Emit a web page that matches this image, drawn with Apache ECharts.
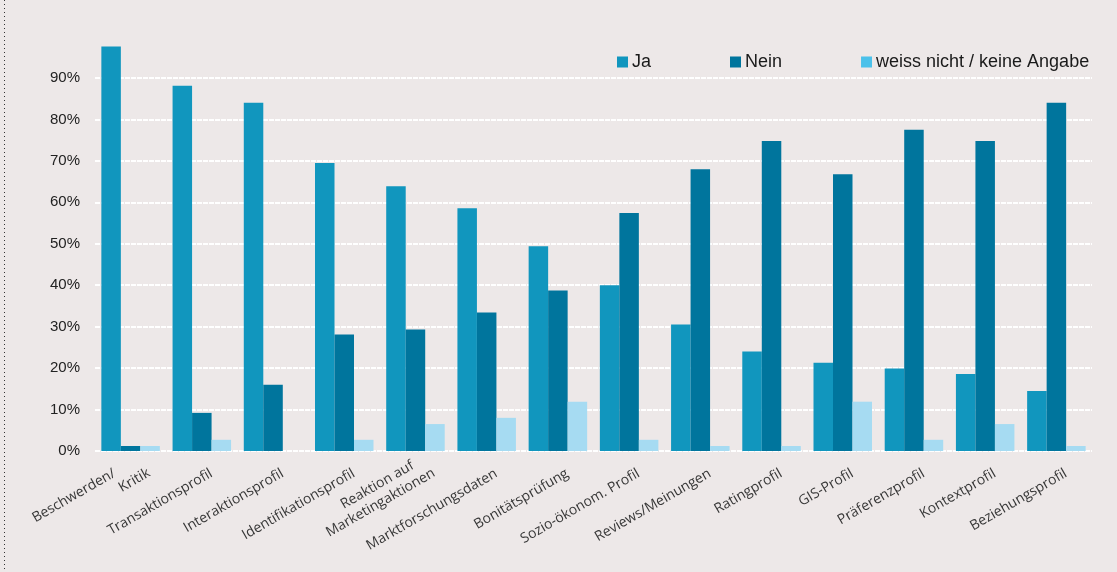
<!DOCTYPE html>
<html>
<head>
<meta charset="utf-8">
<script src="https://cdn.jsdelivr.net/npm/echarts@6/dist/echarts.min.js"></script>
<style>
  html, body { margin: 0; padding: 0; background: #ede8e8; }
  #chart { width: 1117px; height: 572px; }
</style>
</head>
<body>
<div id="chart"></div>
<script>
const categories = [
  "Beschwerden/\nKritik", "Transaktionsprofil", "Interaktionsprofil", "Identifikationsprofil",
  "Reaktion auf\nMarketingaktionen", "Marktforschungsdaten", "Bonitätsprüfung",
  "Sozio-ökonom. Profil", "Reviews/Meinungen", "Ratingprofil", "GIS-Profil",
  "Präferenzprofil", "Kontextprofil", "Beziehungsprofil"
];
const ja =    [97.6, 88.1, 84.0, 69.5, 63.9, 58.6, 49.4, 40.0, 30.5, 24.0, 21.3, 19.9, 18.6, 14.5];
const nein =  [1.2, 9.2, 16.0, 28.1, 29.3, 33.4, 38.7, 57.4, 68.0, 74.8, 66.8, 77.5, 74.8, 84.0];
const weiss = [1.2, 2.7, 0, 2.7, 6.5, 8.0, 11.9, 2.7, 1.2, 1.2, 11.9, 2.7, 6.5, 1.2];
const yTicks = [0, 90, 10]; // min, max, interval

const chart = echarts.init(document.getElementById("chart"));

// two-line labels: last line sits where a single line would, first line above it.
// indents (px) per line, to match the original's offsets
const lineIndent = { "Beschwerden/": [0, 90], "Reaktion auf": [12, 0] };
const labelFormatter = (value) => {
  const lines = value.split("\n");
  if (lines.length === 1) return "{t|" + value + "}{sp|}";
  const ind = lineIndent[lines[0]] || [0, 0];
  const out = lines.map((s, i) => (ind[i] ? "{i" + i + "|}" : "") + "{t|" + s + "}");
  return out.join("\n") + "\n{e| }";
};

const txt = { align: "left", fontFamily: "Open Sans", fontSize: 14, color: "#383838", lineHeight: 17 };

const barBase = {
  type: "bar",
  barWidth: 19.5,
  barGap: "0%",
  clip: false,
};

chart.setOption({
  backgroundColor: "#ede8e8",
  animation: false,
  grid: { left: 95, right: 25, top: 78, bottom: 121 },
  legend: {
    left: 612,
    top: 48,
    itemWidth: 11,
    itemHeight: 11,
    itemGap: 79,
    icon: "rect",
    textStyle: { fontFamily: "Liberation Sans", fontSize: 18, color: "#1a1a1a", padding: [0, 0, 0, -1] },
    data: [
      { name: "Ja", itemStyle: { color: "#1196be" } },
      { name: "Nein", itemStyle: { color: "#00759d" } },
      { name: "weiss nicht / keine Angabe", itemStyle: { color: "#4bc1ea" } },
    ],
  },
  xAxis: {
    type: "category",
    data: categories,
    axisLine: { show: false },
    axisTick: { show: false },
    axisLabel: {
      interval: 0,
      rotate: 30,
      margin: 27,
      padding: [0, -19, 0, 0],
      fontFamily: "Open Sans",
      fontSize: 14,
      color: "#383838",
      lineHeight: 17,
      formatter: labelFormatter,
      rich: {
        t: txt,
        e: { ...txt, lineHeight: 9 },
        sp: { width: 8 },
        i0: { width: lineIndent["Reaktion auf"][0] },
        i1: { width: lineIndent["Beschwerden/"][1] },
      },
    },
  },
  yAxis: {
    type: "value",
    min: yTicks[0],
    max: yTicks[1],
    interval: yTicks[2],
    axisLine: { show: false },
    axisTick: { show: false },
    axisLabel: {
      formatter: "{value}%",
      margin: 15,
      fontFamily: "Liberation Sans",
      fontSize: 15,
      color: "#222",
    },
    splitLine: { lineStyle: { color: "#ffffff", width: 2, type: [5, 1] } },
  },
  graphic: [
    {
      type: "line",
      shape: { x1: 4.5, y1: 0, x2: 4.5, y2: 572 },
      style: { stroke: "#333", lineWidth: 1, lineDash: [1, 3] },
    },
  ],
  series: [
    { ...barBase, name: "Ja", data: ja, itemStyle: { color: "#1196be" } },
    { ...barBase, name: "Nein", data: nein, itemStyle: { color: "#00759d" } },
    { ...barBase, name: "weiss nicht / keine Angabe", data: weiss, itemStyle: { color: "#a6dbf2" } },
  ],
});
</script>
</body>
</html>
